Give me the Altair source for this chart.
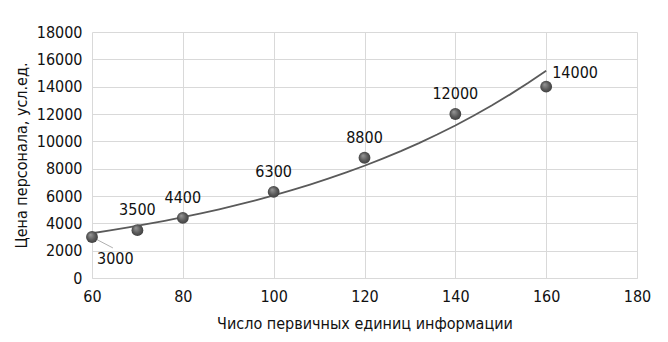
import altair as alt
import pandas as pd

units = [60, 70, 80, 100, 120, 140, 160]
cost = [3000, 3500, 4400, 6300, 8800, 12000, 14000]
x_ticks = [60, 80, 100, 120, 140, 160, 180]
y_ticks = list(range(0, 18001, 2000))

df = pd.DataFrame({"units": units, "cost": cost})

FONT = "DejaVu Sans Condensed, Roboto, sans-serif"

xs = alt.Scale(domain=[60, 180], nice=False, zero=False)
ys = alt.Scale(domain=[0, 18000], nice=False)

common = dict(grid=True, gridColor="#d9d9d9", ticks=False, labelFontSize=16, titleFontSize=16,
              labelColor="#111", titleColor="#111", labelFont=FONT, titleFont=FONT,
              titleFontWeight="normal", labelFontWeight="normal", labelOverlap=False,
              labelFlush=False, format="d")

x_enc = alt.X("units:Q", scale=xs,
              axis=alt.Axis(values=x_ticks, title="Число первичных единиц информации",
                            domain=True, domainColor="#d9d9d9", labelPadding=10, titlePadding=11,
                            **common))
y_enc = alt.Y("cost:Q", scale=ys,
              axis=alt.Axis(values=y_ticks, title="Цена персонала, усл.ед.",
                            domain=False, labelPadding=10, titlePadding=7, **common))

base = alt.Chart(df)

trend = base.transform_regression("units", "cost", method="exp", extent=[60, 160]).mark_line(
    color="#5a5a5a", strokeWidth=1.8).encode(x=x_enc, y=y_enc)

leader = base.transform_filter(alt.datum.units == 60).transform_calculate(
    x2v="datum.units + 4.6", y2v="datum.cost - 800").mark_rule(
    color="#9a9a9a", strokeWidth=0.8).encode(
    x=x_enc, y=y_enc, x2="x2v:Q", y2="y2v:Q")

sphere = alt.RadialGradient(
    gradient="radial", x1=0.35, y1=0.3, r1=0.0, x2=0.5, y2=0.5, r2=0.55,
    stops=[alt.GradientStop(offset=0, color="#9a9a9a"),
           alt.GradientStop(offset=0.6, color="#5a5a5a"),
           alt.GradientStop(offset=1, color="#3c3c3c")])

points = base.mark_point(filled=True, shape="circle", size=140, fill=sphere,
                         strokeWidth=0, opacity=1).encode(x=x_enc, y=y_enc)

lbl_style = dict(font=FONT, fontSize=16, color="#111")

labels_mid = base.transform_filter(
    (alt.datum.units != 60) & (alt.datum.units != 160)).mark_text(
    dy=-20, **lbl_style).encode(x=x_enc, y=y_enc, text="cost:Q")
label_first = base.transform_filter(alt.datum.units == 60).mark_text(
    dx=5, dy=22, align="left", **lbl_style).encode(x=x_enc, y=y_enc, text="cost:Q")
label_last = base.transform_filter(alt.datum.units == 160).mark_text(
    dx=6, dy=-14, align="left", **lbl_style).encode(x=x_enc, y=y_enc, text="cost:Q")

chart = alt.layer(trend, leader, points, labels_mid, label_first, label_last).properties(
    width=545, height=246,
    autosize=alt.AutoSizeParams(type="none"),
    padding={"left": 92, "top": 32, "right": 31, "bottom": 64},
    background="white",
).configure_view(stroke=None)

chart.save("out.html", embed_options={"renderer": "svg", "actions": False})
